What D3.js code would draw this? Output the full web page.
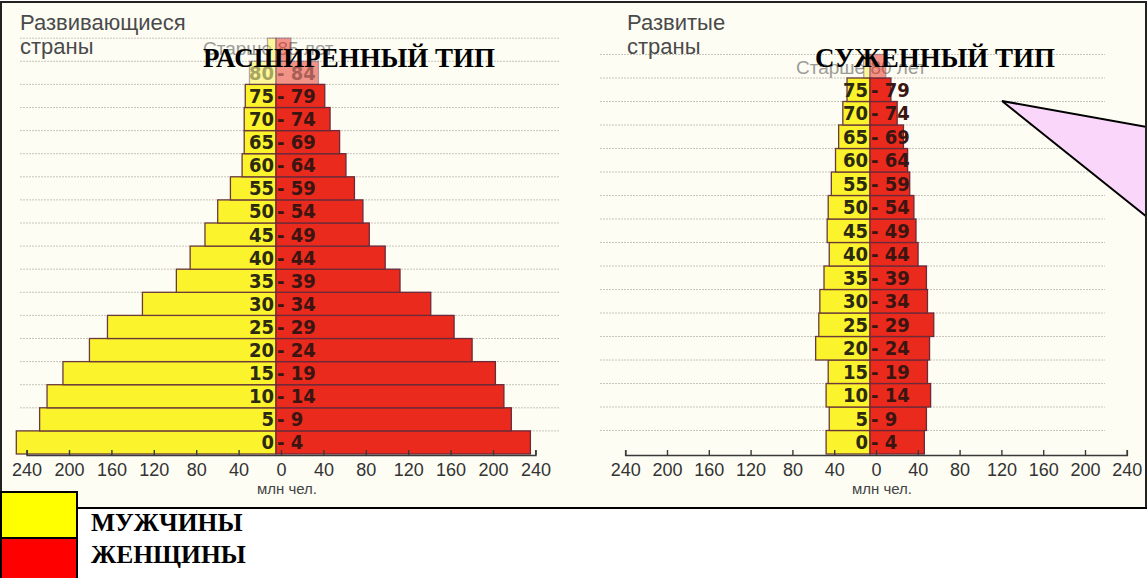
<!DOCTYPE html>
<html><head><meta charset="utf-8">
<script src="https://cdn.jsdelivr.net/npm/d3@7"></script>
<style>
html,body{margin:0;padding:0;background:#fff;}
svg{display:block;}
</style></head>
<body>
<svg id="chart" width="1147" height="578"></svg>
<script>
// ---------- DATA ----------
const ageLeft = ["0-4","5-9","10-14","15-19","20-24","25-29","30-34","35-39","40-44","45-49","50-54","55-59","60-64","65-69","70-74","75-79","80-84","85+"];
const maleLeft   = [245,223,216,201,176,159,126,94,81,67,55,43,32,30,30,29,25,8];
const femaleLeft = [240,222,215,207,185,168,146,117,103,88,82,74,66,60,51,46,40,14];

const ageRight = ["0-4","5-9","10-14","15-19","20-24","25-29","30-34","35-39","40-44","45-49","50-54","55-59","60-64","65-69","70-74","75-79","80+"];
const maleRight   = [42,39,42,40,52,49,48,44,39,41,40,37,33,30,26,22,6];
const femaleRight = [52,54,58,55,57,61,55,54,46,44,42,38,36,32,26,20,15];

const axisTicks = [-240,-200,-160,-120,-80,-40,0,40,80,120,160,200,240];
const panelTitles = [["Развивающиеся","страны"],["Развитые","страны"]];
const typeTitles = ["РАСШИРЕННЫЙ ТИП","СУЖЕННЫЙ ТИП"];
const oldLabels = ["Старше 85 лет","Старше 80 лет"];
const unitLabel = "млн чел.";
const legendLabels = ["МУЖЧИНЫ","ЖЕНЩИНЫ"];

// ---------- LAYOUT ----------
const svg = d3.select("#chart");
const YELLOW = "#fbf42c", RED = "#ea2a1c";

svg.append("rect").attr("x",1).attr("y",2).attr("width",1145).attr("height",506)
  .attr("fill","#fdfdf4");

const gridG = svg.append("g");
const textG = [];

function panel(cfg){
  const g = svg.append("g");
  const n = cfg.ages.length;
  const y = d3.scaleBand().domain(cfg.ages).range([cfg.base, cfg.base - n*cfg.rowH]);
  const x = d3.scaleLinear().domain([-240,240]).range([cfg.cx-240*cfg.k, cfg.cx+240*cfg.k]);

  cfg.ages.forEach(a=>{
    gridG.append("line").attr("x1",cfg.gx0).attr("x2",cfg.gx1)
      .attr("y1",y(a)).attr("y2",y(a))
      .attr("stroke","#b4b4aa").attr("stroke-width",1).attr("stroke-dasharray","2,1").attr("opacity",0.75);
  });

  const rows = cfg.ages.map((a,i)=>({age:a,m:cfg.male[i],f:cfg.female[i],i}));
  const faded = d=> d.i>=cfg.fadeFrom;

  // "older than" label (under the bars / title)
  g.append("text").attr("x",cfg.oldX).attr("y",cfg.oldY)
    .attr("font-family","'Liberation Sans',Arial,sans-serif").attr("font-size",19)
    .attr("fill","#9c9c96").text(cfg.oldLabel);

  g.selectAll(".m").data(rows).join("rect")
    .attr("x",d=>x(-d.m)).attr("y",d=>y(d.age))
    .attr("width",d=>x(0)-x(-d.m)).attr("height",y.bandwidth())
    .attr("fill",YELLOW).attr("stroke","#6b3a3a").attr("stroke-width",1.3)
    .attr("opacity",d=>faded(d)?0.45:1);
  g.selectAll(".f").data(rows).join("rect")
    .attr("x",x(0)).attr("y",d=>y(d.age))
    .attr("width",d=>x(d.f)-x(0)).attr("height",y.bandwidth())
    .attr("fill",RED).attr("stroke","#6b2a3a").attr("stroke-width",1.3)
    .attr("opacity",d=>faded(d)?0.5:1);

  const lab = rows.filter(d=>d.age.includes("-"));
  const ff = "'Liberation Sans Narrow','DejaVu Sans Condensed',sans-serif";
  g.selectAll(".la").data(lab).join("text")
    .attr("x",x(0)-2).attr("y",d=>y(d.age)+y.bandwidth()/2+7)
    .attr("text-anchor","end").attr("font-family",ff)
    .attr("font-weight","bold").attr("font-size",20).attr("fill","#2d2a12")
    .attr("opacity",d=>faded(d)?0.4:1)
    .text(d=>d.age.split("-")[0]);
  g.selectAll(".lb").data(lab).join("text")
    .attr("x",x(0)+1).attr("y",d=>y(d.age)+y.bandwidth()/2+7)
    .attr("text-anchor","start").attr("font-family",ff)
    .attr("font-weight","bold").attr("font-size",20).attr("fill","#3a1512")
    .attr("opacity",d=>faded(d)?0.4:1)
    .text(d=>"- "+d.age.split("-")[1]);

  // axis
  const xa = d3.scaleLinear().domain([-240,240]).range([cfg.cx+cfg.axShift-240*cfg.k, cfg.cx+cfg.axShift+240*cfg.k]);
  const ax = g.append("g").attr("transform",`translate(0,${cfg.base+1})`)
    .call(d3.axisBottom(xa).tickValues(axisTicks).tickFormat(d=>Math.abs(d)).tickSize(-5).tickPadding(8));
  ax.select(".domain").attr("stroke","#3a3a3a").attr("stroke-width",1.6);
  ax.selectAll(".tick line").attr("stroke","#3a3a3a").attr("stroke-width",1.4);
  ax.selectAll(".tick text").attr("font-family","'Liberation Sans',Arial,sans-serif")
    .attr("font-size",18).attr("fill","#333");
  g.append("text").attr("x",xa(0)+6).attr("y",cfg.base+40).attr("text-anchor","middle")
    .attr("font-family","'Liberation Sans',Arial,sans-serif").attr("font-size",15).attr("fill","#444")
    .text(unitLabel);

  // panel title
  g.append("text").attr("x",cfg.titleX).attr("y",30)
    .attr("font-family","'Liberation Sans',Arial,sans-serif").attr("font-size",22).attr("fill","#4a4a4a")
    .selectAll("tspan").data(cfg.title).join("tspan")
    .attr("x",cfg.titleX).attr("dy",(d,i)=>i?24:0).text(d=>d);

  textG.push({x:cfg.typeX, text:cfg.type});
}

panel({ages:ageLeft,male:maleLeft,female:femaleLeft,base:454,rowH:23.1,cx:276,k:1.06,axShift:5,
  gx0:20,gx1:560,fadeFrom:16,oldLabel:oldLabels[0],oldX:203,oldY:55,title:panelTitles[0],titleX:20,
  type:typeTitles[0],typeX:203});
panel({ages:ageRight,male:maleRight,female:femaleRight,base:454,rowH:23.5,cx:870,k:1.045,axShift:6,
  gx0:600,gx1:1105,fadeFrom:16,oldLabel:oldLabels[1],oldX:796,oldY:74,title:panelTitles[1],titleX:627,
  type:typeTitles[1],typeX:815});

// type titles on top
svg.append("g").selectAll("text").data(textG).join("text")
  .attr("x",d=>d.x).attr("y",67)
  .attr("font-family","'Liberation Serif','Times New Roman',serif").attr("font-weight","bold")
  .attr("font-size",27).attr("fill","#000").text(d=>d.text);

// callout
svg.append("path").attr("d","M1002,101 L1147,127 L1147,217 Z").attr("fill","#fad6fa").attr("stroke","none");
svg.append("path").attr("d","M1147,127 L1002,101 L1147,217").attr("fill","none").attr("stroke","#000").attr("stroke-width",2);

// frame
svg.append("path").attr("d","M1,508 L1,2 L1146,2 L1146,508").attr("fill","none").attr("stroke","#222").attr("stroke-width",2);
svg.append("line").attr("x1",77).attr("x2",1147).attr("y1",508).attr("y2",508).attr("stroke","#000").attr("stroke-width",2);

// legend
const legColors = ["#ffff00", "#ff0000"];
const lg = svg.append("g");
lg.selectAll("rect").data(legendLabels).join("rect")
  .attr("x",1).attr("y",(d,i)=>492+i*46).attr("width",76).attr("height",46)
  .attr("fill",(d,i)=>legColors[i]).attr("stroke","#000").attr("stroke-width",2);
lg.selectAll("text").data(legendLabels).join("text")
  .attr("x",91).attr("y",(d,i)=>531+i*32)
  .attr("font-family","'Liberation Serif','Times New Roman',serif").attr("font-weight","bold")
  .attr("font-size",25.5).attr("fill","#000").text(d=>d);
</script>
</body></html>
